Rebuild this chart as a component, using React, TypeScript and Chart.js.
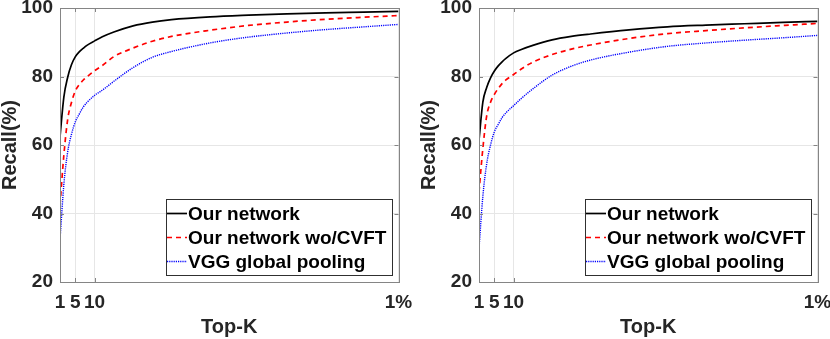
import React, { useEffect, useRef } from "react";
import { Chart, registerables } from "chart.js";

Chart.register(...registerables);

// Top-K positions (1% of the database ≈ 89)
const kValues = [1, 2, 3, 4, 5, 6, 7, 8, 10, 12, 15, 20, 25, 30, 40, 50, 60, 70, 80, 89];

// Left panel
const leftOurs = [62.4, 74.0, 79.8, 83.5, 85.8, 87.2, 88.2, 89.1, 90.4, 91.6, 93.0, 94.8, 95.9, 96.6, 97.4, 97.9, 98.3, 98.6, 98.8, 99.0];
const leftWoCVFT = [42.5, 57.0, 67.5, 72.5, 75.8, 77.6, 78.9, 79.9, 81.7, 83.2, 85.8, 88.3, 90.3, 91.7, 93.5, 94.9, 95.9, 96.7, 97.3, 97.8];
const leftVGG = [32.3, 48.5, 58.0, 63.2, 66.8, 69.0, 71.0, 72.4, 74.5, 76.0, 78.6, 82.6, 85.6, 87.3, 89.8, 91.5, 92.7, 93.7, 94.5, 95.2];

// Right panel
const rightOurs = [61.4, 72.5, 76.8, 79.6, 81.6, 83.1, 84.3, 85.3, 86.9, 87.9, 89.1, 90.7, 91.7, 92.4, 93.6, 94.5, 95.0, 95.4, 95.8, 96.1];
const rightWoCVFT = [46.3, 59.0, 68.5, 72.5, 74.8, 76.5, 77.9, 79.0, 80.6, 82.2, 84.2, 86.4, 88.0, 89.2, 91.1, 92.5, 93.4, 94.2, 94.9, 95.5];
const rightVGG = [29.8, 45.0, 54.5, 60.0, 63.9, 66.0, 68.0, 69.4, 71.5, 73.6, 76.4, 80.4, 83.0, 84.8, 87.1, 88.8, 89.8, 90.6, 91.3, 92.0];

const seriesLabels = ["Our network", "Our network wo/CVFT", "VGG global pooling"];
const xTickValues = [1, 5, 10, 89];
const xTickLabels = ["1", "5", "10", "1%"];
const yMin = 20;
const yMax = 100;
const yStep = 20;
const xTitle = "Top-K";
const yTitle = "Recall(%)";

const FONT = "'Liberation Sans', Arial, Helvetica, sans-serif";
const TEXT_COLOR = "#262626";
const AXIS_COLOR = "#858585";
const GRID_COLOR = "#e6e6e6";

const seriesStyles = [
  { borderColor: "#000000", borderWidth: 1.7, borderDash: [] as number[] },
  { borderColor: "#ff0000", borderWidth: 1.7, borderDash: [5, 4] },
  { borderColor: "#0000ff", borderWidth: 1.4, borderDash: [1.2, 1] },
];

const framePlugin = {
  id: "matlabFrame",
  afterDatasetsDraw(chart: any) {
    const { ctx, chartArea: ca } = chart;
    ctx.save();
    ctx.strokeStyle = AXIS_COLOR;
    ctx.lineWidth = 1;
    ctx.setLineDash([]);
    ctx.strokeRect(Math.round(ca.left) + 0.5, Math.round(ca.top) + 0.5, Math.round(ca.right - ca.left), Math.round(ca.bottom - ca.top));
    const ys = chart.scales.y;
    const xs = chart.scales.x;
    ctx.beginPath();
    ys.ticks.forEach((t: any) => {
      const y = Math.round(ys.getPixelForValue(t.value)) + 0.5;
      ctx.moveTo(ca.left, y);
      ctx.lineTo(ca.left + 4, y);
      ctx.moveTo(ca.right, y);
      ctx.lineTo(ca.right - 4, y);
    });
    xs.ticks.forEach((t: any) => {
      const x = Math.round(xs.getPixelForValue(t.value)) + 0.5;
      ctx.moveTo(x, ca.bottom);
      ctx.lineTo(x, ca.bottom - 4);
      ctx.moveTo(x, ca.top);
      ctx.lineTo(x, ca.top + 4);
    });
    ctx.stroke();
    ctx.restore();
  },
  afterDraw(chart: any) {
    const { ctx, chartArea: ca } = chart;
    const datasets = chart.data.datasets;
    ctx.save();
    ctx.font = `bold 19px ${FONT}`;
    const textW = Math.max(...datasets.map((d: any) => ctx.measureText(d.label).width));
    const sample = 22;
    const w = Math.round(sample + textW + 6);
    const h = 76;
    const right = Math.round(ca.right - 7);
    const bottom = Math.round(ca.bottom - 7);
    const left = right - w;
    const top = bottom - h;
    ctx.fillStyle = "#ffffff";
    ctx.fillRect(left, top, w, h);
    ctx.strokeStyle = "#303030";
    ctx.lineWidth = 1;
    ctx.strokeRect(left + 0.5, top + 0.5, w, h);
    datasets.forEach((ds: any, i: number) => {
      const y = top + 14.5 + i * 24;
      ctx.strokeStyle = ds.borderColor;
      ctx.lineWidth = ds.borderWidth;
      ctx.setLineDash(ds.borderDash || []);
      ctx.beginPath();
      ctx.moveTo(left + 1, y);
      ctx.lineTo(left + sample - 1, y);
      ctx.stroke();
      ctx.setLineDash([]);
      ctx.fillStyle = "#000000";
      ctx.textBaseline = "middle";
      ctx.textAlign = "left";
      ctx.fillText(ds.label, left + sample, y + 1);
    });
    ctx.restore();
  },
};

function makeConfig(series: number[][], rightPad: number): any {
  return {
    type: "line",
    data: {
      datasets: series.map((vals, i) => ({
        label: seriesLabels[i],
        data: kValues.map((k, j) => ({ x: k, y: vals[j] })),
        borderColor: seriesStyles[i].borderColor,
        borderWidth: seriesStyles[i].borderWidth,
        borderDash: seriesStyles[i].borderDash,
        pointRadius: 0,
        fill: false,
        cubicInterpolationMode: "monotone",
      })),
    },
    options: {
      animation: false,
      responsive: false,
      maintainAspectRatio: false,
      layout: { padding: { left: 0, top: 8, right: rightPad, bottom: 0 } },
      plugins: { legend: { display: false }, tooltip: { enabled: false } },
      scales: {
        x: {
          type: "linear",
          min: 1,
          max: 89,
          afterBuildTicks: (scale: any) => {
            scale.ticks = xTickValues.map((v) => ({ value: v }));
          },
          afterFit: (scale: any) => {
            scale.height = 57;
            scale.paddingLeft = 0;
            scale.paddingRight = 0;
          },
          ticks: {
            autoSkip: false,
            maxRotation: 0,
            padding: 9,
            color: TEXT_COLOR,
            font: { family: FONT, size: 19, weight: "bold" },
            callback: (v: number) => {
              const idx = xTickValues.indexOf(v);
              return idx >= 0 ? xTickLabels[idx] : "";
            },
          },
          grid: { color: GRID_COLOR, lineWidth: 1, drawTicks: false },
          border: { display: false },
          title: {
            display: true,
            text: xTitle,
            color: TEXT_COLOR,
            font: { family: FONT, size: 20, weight: "bold", lineHeight: 1 },
            padding: { top: 0, bottom: 2 },
          },
        },
        y: {
          min: yMin,
          max: yMax,
          afterFit: (scale: any) => {
            scale.width = 60;
            scale.paddingTop = 0;
            scale.paddingBottom = 0;
          },
          ticks: {
            stepSize: yStep,
            padding: 7,
            color: TEXT_COLOR,
            font: { family: FONT, size: 19, weight: "bold" },
          },
          grid: { color: GRID_COLOR, lineWidth: 1, drawTicks: false },
          border: { display: false },
          title: {
            display: true,
            text: yTitle,
            color: TEXT_COLOR,
            font: { family: FONT, size: 20, weight: "bold", lineHeight: 1 },
            padding: { top: 0, bottom: 0 },
          },
        },
      },
    },
    plugins: [framePlugin],
  };
}

function Panel({ series, left, width, rightPad }: { series: number[][]; left: number; width: number; rightPad: number }) {
  const ref = useRef<HTMLCanvasElement | null>(null);
  useEffect(() => {
    if (!ref.current) return;
    const chart = new Chart(ref.current, makeConfig(series, rightPad));
    return () => chart.destroy();
  }, []);
  return (
    <canvas
      ref={ref}
      width={width}
      height={339}
      style={{ position: "absolute", left, top: 0, width, height: 339 }}
    />
  );
}

export default function App() {
  return (
    <div style={{ position: "absolute", left: 0, top: 0, width: 830, height: 339, background: "#ffffff" }}>
      <Panel series={[leftOurs, leftWoCVFT, leftVGG]} left={0} width={419} rightPad={20.5} />
      <Panel series={[rightOurs, rightWoCVFT, rightVGG]} left={419} width={411} rightPad={12.5} />
    </div>
  );
}
